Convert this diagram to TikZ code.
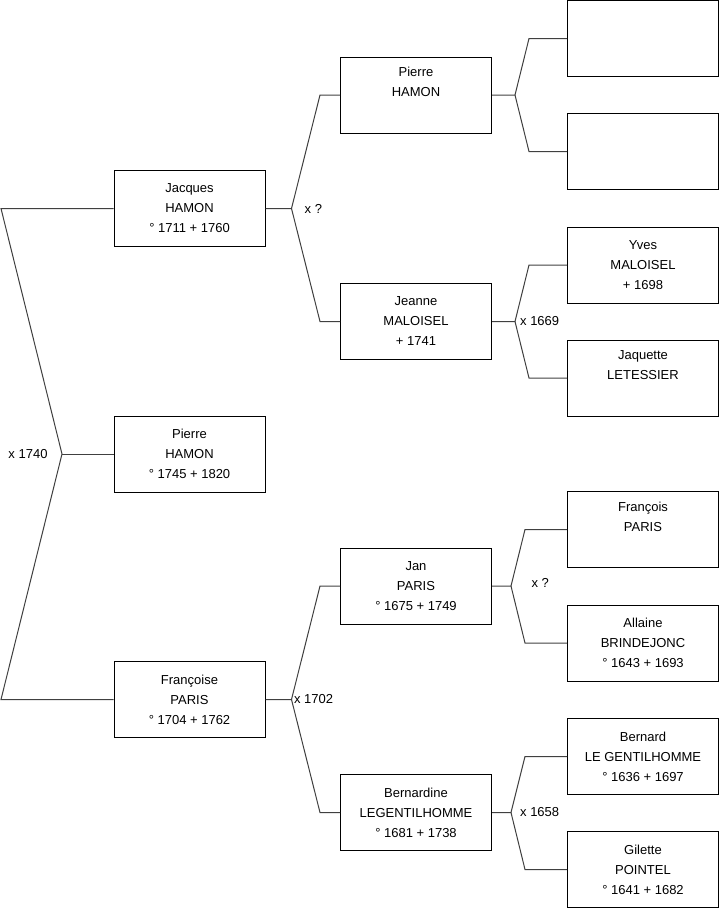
\documentclass[tikz,border=0pt]{standalone}
\usepackage{fontspec}
\setmainfont{Liberation Sans}
\usetikzlibrary{positioning}

\begin{document}
\begin{tikzpicture}[
  x=0.75pt,
  y=-0.75pt,
  line width=0.75pt,
  person/.style={draw, rectangle, minimum width=113.25pt, minimum height=57pt,
    inner sep=0pt, align=center, font=\fontsize{9.75}{15}\selectfont},
  union/.style={inner sep=1.5pt, font=\fontsize{9.75}{12}\selectfont},
  link/.style={draw=black!75}
]
  \useasboundingbox (0,0) rectangle (719,908);

  % generation 1
  \node[person] (jacques)   at (189.5,208.5) {Jacques\\HAMON\\° 1711 + 1760};
  \node[person] (pierre)    at (189.5,454)   {Pierre\\HAMON\\° 1745 + 1820};
  \node[person] (francoise) at (189.5,699.5) {Françoise\\PARIS\\° 1704 + 1762};

  % generation 2
  \node[person] (pierreH)    at (416,95)    {Pierre\\HAMON\\\strut};
  \node[person] (jeanne)     at (416,321.5) {Jeanne\\MALOISEL\\+ 1741};
  \node[person] (jan)        at (416,586)   {Jan\\PARIS\\° 1675 + 1749};
  \node[person] (bernardine) at (416,812.5) {Bernardine\\LEGENTILHOMME\\° 1681 + 1738};

  % generation 3
  \node[person] (pereH)    at (643,38.5)  {};
  \node[person] (mereH)    at (643,151.5) {};
  \node[person] (yves)     at (643,265)   {Yves\\MALOISEL\\+ 1698};
  \node[person] (jaquette) at (643,378)   {Jaquette\\LETESSIER\\\strut};
  \node[person] (francois) at (643,529.5) {François\\PARIS\\\strut};
  \node[person] (allaine)  at (643,643)   {Allaine\\BRINDEJONC\\° 1643 + 1693};
  \node[person] (bernard)  at (643,756.5) {Bernard\\LE GENTILHOMME\\° 1636 + 1697};
  \node[person] (gilette)  at (643,869.5) {Gilette\\POINTEL\\° 1641 + 1682};

  % couple of the first generation
  \coordinate (x0) at (62,454);
  \coordinate (t0) at (1,208.5);
  \coordinate (b0) at (1,699.5);
  \path[link] (jacques.west) -- (t0) -- (x0) -- (b0) -- (francoise.west);
  \path[link] (x0) -- (pierre.west);
  \node[union, left=9pt] (m0) at (x0) {x 1740};

  % couples of the second generation
  \coordinate (x1) at ([xshift=19.5pt]jacques.east);
  \path[link] (jacques.east) -- (x1) -- ([xshift=-15pt]pierreH.west) -- (pierreH.west);
  \path[link] (x1) -- ([xshift=-15pt]jeanne.west) -- (jeanne.west);
  \node[union, right=8pt] (m1) at (x1) {x ?};

  \coordinate (x2) at ([xshift=19.5pt]francoise.east);
  \path[link] (francoise.east) -- (x2) -- ([xshift=-15pt]jan.west) -- (jan.west);
  \path[link] (x2) -- ([xshift=-15pt]bernardine.west) -- (bernardine.west);
  \node[union, right=0pt] (m2) at (x2) {x 1702};

  % couples of the third generation
  \coordinate (x3) at ([xshift=17.25pt]pierreH.east);
  \path[link] (pierreH.east) -- (x3) -- ([xshift=-28.5pt]pereH.west) -- (pereH.west);
  \path[link] (x3) -- ([xshift=-28.5pt]mereH.west) -- (mereH.west);

  \coordinate (x4) at ([xshift=17.25pt]jeanne.east);
  \path[link] (jeanne.east) -- (x4) -- ([xshift=-28.5pt]yves.west) -- (yves.west);
  \path[link] (x4) -- ([xshift=-28.5pt]jaquette.west) -- (jaquette.west);
  \node[union, right=2pt] (m4) at (x4) {x 1669};

  \coordinate (x5) at ([xshift=14.25pt]jan.east);
  \path[link] (jan.east) -- (x5) -- ([xshift=-31.5pt]francois.west) -- (francois.west);
  \path[link] (x5) -- ([xshift=-31.5pt]allaine.west) -- (allaine.west);
  \node[union, right=13.5pt, yshift=2pt] (m5) at (x5) {x ?};

  \coordinate (x6) at ([xshift=14.25pt]bernardine.east);
  \path[link] (bernardine.east) -- (x6) -- ([xshift=-31.5pt]bernard.west) -- (bernard.west);
  \path[link] (x6) -- ([xshift=-31.5pt]gilette.west) -- (gilette.west);
  \node[union, right=5pt] (m6) at (x6) {x 1658};
\end{tikzpicture}
\end{document}
